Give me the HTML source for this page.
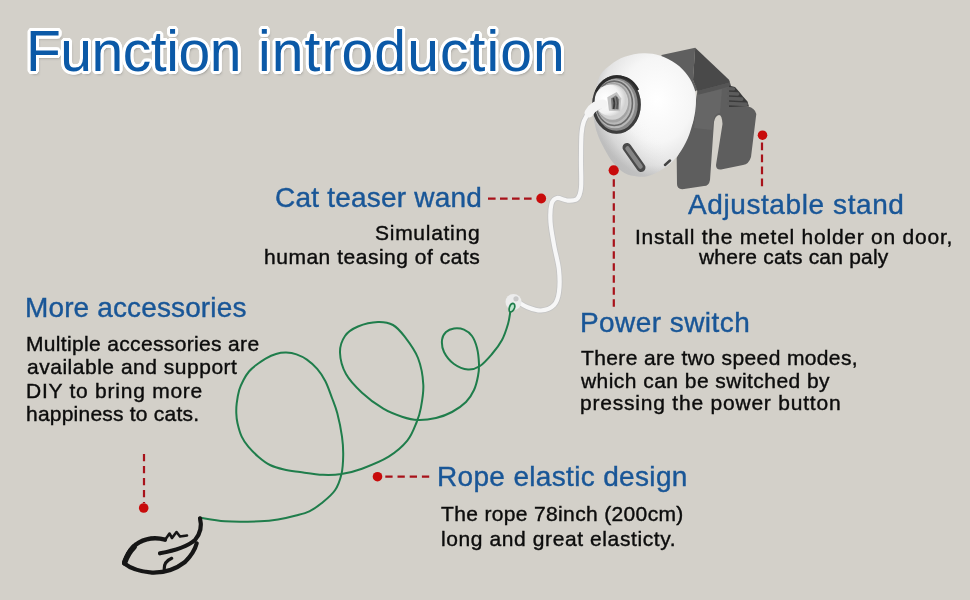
<!DOCTYPE html>
<html><head><meta charset="utf-8">
<style>
html,body{margin:0;padding:0}
body{width:970px;height:600px;background:#d3d0c9;position:relative;overflow:hidden;font-family:"Liberation Sans",sans-serif}
.t{position:absolute;white-space:nowrap;line-height:1;margin:0;will-change:transform}
.b{-webkit-text-stroke:0.4px currentColor}
.title{text-shadow:3.00px 0.00px 0 #fff,2.77px 1.15px 0 #fff,2.12px 2.12px 0 #fff,1.15px 2.77px 0 #fff,0.00px 3.00px 0 #fff,-1.15px 2.77px 0 #fff,-2.12px 2.12px 0 #fff,-2.77px 1.15px 0 #fff,-3.00px 0.00px 0 #fff,-2.77px -1.15px 0 #fff,-2.12px -2.12px 0 #fff,-1.15px -2.77px 0 #fff,-0.00px -3.00px 0 #fff,1.15px -2.77px 0 #fff,2.12px -2.12px 0 #fff,2.77px -1.15px 0 #fff,2.00px 0.00px 0 #fff,1.85px 0.77px 0 #fff,1.41px 1.41px 0 #fff,0.77px 1.85px 0 #fff,0.00px 2.00px 0 #fff,-0.77px 1.85px 0 #fff,-1.41px 1.41px 0 #fff,-1.85px 0.77px 0 #fff,-2.00px 0.00px 0 #fff,-1.85px -0.77px 0 #fff,-1.41px -1.41px 0 #fff,-0.77px -1.85px 0 #fff,-0.00px -2.00px 0 #fff,0.77px -1.85px 0 #fff,1.41px -1.41px 0 #fff,1.85px -0.77px 0 #fff,2px 2.5px 3px rgba(70,70,70,0.55)}
svg{position:absolute;left:0;top:0}
</style></head><body>
<svg width="970" height="600" viewBox="0 0 970 600">
<defs>
 <radialGradient id="bodyG" cx="0.62" cy="0.38" r="0.62">
  <stop offset="0" stop-color="#ffffff"/>
  <stop offset="0.55" stop-color="#f6f6f6"/>
  <stop offset="0.85" stop-color="#e4e4e4"/>
  <stop offset="1" stop-color="#c9c9c9"/>
 </radialGradient>
 <radialGradient id="ringG" cx="0.5" cy="0.5" r="0.5">
  <stop offset="0.6" stop-color="#d0d0d0"/>
  <stop offset="0.8" stop-color="#a8a8a8"/>
  <stop offset="0.95" stop-color="#777"/>
  <stop offset="1" stop-color="#444"/>
 </radialGradient>
 <linearGradient id="topG" x1="0" y1="0" x2="1" y2="0.3">
  <stop offset="0" stop-color="#5e5e5e"/>
  <stop offset="1" stop-color="#474747"/>
 </linearGradient>
 <linearGradient id="bodyShade" x1="0" y1="1" x2="0.7" y2="0.3">
  <stop offset="0" stop-color="#9a9a9a" stop-opacity="0.55"/>
  <stop offset="0.45" stop-color="#b0b0b0" stop-opacity="0.15"/>
  <stop offset="0.7" stop-color="#fff" stop-opacity="0"/>
 </linearGradient>
 <radialGradient id="capG" cx="0.35" cy="0.45" r="0.65">
  <stop offset="0" stop-color="#ffffff"/>
  <stop offset="0.7" stop-color="#f2f2f2"/>
  <stop offset="1" stop-color="#cfcfcf"/>
 </radialGradient>
 <filter id="blurToy" x="-20%" y="-20%" width="140%" height="140%"><feGaussianBlur stdDeviation="0.6"/></filter>
 <filter id="blur1"><feGaussianBlur stdDeviation="0.5"/></filter>
 <filter id="blur06"><feGaussianBlur stdDeviation="0.35"/></filter>
</defs>
<!-- stand -->
<g id="stand">
 <path d="M697.5,89.5 L729,80.5 L730.5,86 L731,106 L748,106.5 Q755,108 756.3,114 L751,157 Q749,164 743,165 L721,169.5 Q716,170 716,165 L722.5,124 Q722,115 719,115 Q715,116 714,122 L710,180 Q709,186 704,186 L684,189 Q677,190 677,184 L676.7,158 L693,122 Z" fill="#5e5e5e"/>
 <path d="M661.5,55 L695.2,47.8 L693,80 L697.5,90 L660,110 Z" fill="#5f5f5f"/>
 <path d="M695.2,47.8 L729,79.7 L730,82.5 L697.5,91 L693,80 Z" fill="#494949"/>
 <path d="M697.5,91 L730,82.5 L731,86 L699,95 Z" fill="#555"/>
 <path d="M697,95 L722,89 L720,113 Q716,113 714,118 L712,130 L694,128 Z" fill="#666"/>
 <path d="M729,85.5 L735,87 L739,91.5 L743,96.5 L747.5,101.5 L749,106.5 L729,107 Z" fill="#3a3a3a"/>
 <g fill="#5c5c5c">
  <rect x="727" y="86.8" width="8.3" height="3.4" rx="1.7" transform="rotate(3 727 86.8)"/>
  <rect x="727" y="91.6" width="12.5" height="3.6" rx="1.8" transform="rotate(3 727 91.6)"/>
  <rect x="727" y="96.6" width="16.6" height="3.6" rx="1.8" transform="rotate(3 727 96.6)"/>
  <rect x="727" y="101.6" width="21" height="3.6" rx="1.8" transform="rotate(3 727 101.6)"/>
 </g>
</g>
<!-- body -->
<path id="body" d="M593.2,105.7 C594.0,98.7 596.1,84.5 599.0,77.7 C601.9,70.9 606.4,68.3 610.7,64.8 C615.0,61.3 619.2,58.6 624.7,56.7 C630.2,54.8 637.6,53.4 643.4,53.2 C649.2,53.0 654.3,53.8 659.7,55.5 C665.1,57.2 671.3,60.4 676.0,63.7 C680.7,67.0 684.6,71.1 687.7,75.4 C690.8,79.7 693.3,84.7 694.7,89.4 C696.1,94.1 696.1,98.4 695.9,103.4 C695.7,108.5 695.0,113.9 693.6,119.7 C692.2,125.5 690.2,132.6 687.7,138.4 C685.2,144.2 681.9,150.0 678.4,154.7 C674.9,159.4 671.4,163.0 666.7,166.4 C662.0,169.8 655.3,173.5 650.4,175.2 C645.5,176.9 641.8,176.9 637.5,176.5 C633.2,176.1 628.6,175.3 624.5,173.0 C620.4,170.7 616.3,166.5 613.0,162.5 C609.7,158.5 607.1,153.8 604.5,149.0 C601.9,144.2 599.2,138.9 597.5,134.0 C595.8,129.1 594.7,124.4 594.0,119.7 C593.3,115.0 592.4,112.7 593.2,105.7 Z" fill="url(#bodyG)"/>
<path d="M593.2,105.7 C594.0,98.7 596.1,84.5 599.0,77.7 C601.9,70.9 606.4,68.3 610.7,64.8 C615.0,61.3 619.2,58.6 624.7,56.7 C630.2,54.8 637.6,53.4 643.4,53.2 C649.2,53.0 654.3,53.8 659.7,55.5 C665.1,57.2 671.3,60.4 676.0,63.7 C680.7,67.0 684.6,71.1 687.7,75.4 C690.8,79.7 693.3,84.7 694.7,89.4 C696.1,94.1 696.1,98.4 695.9,103.4 C695.7,108.5 695.0,113.9 693.6,119.7 C692.2,125.5 690.2,132.6 687.7,138.4 C685.2,144.2 681.9,150.0 678.4,154.7 C674.9,159.4 671.4,163.0 666.7,166.4 C662.0,169.8 655.3,173.5 650.4,175.2 C645.5,176.9 641.8,176.9 637.5,176.5 C633.2,176.1 628.6,175.3 624.5,173.0 C620.4,170.7 616.3,166.5 613.0,162.5 C609.7,158.5 607.1,153.8 604.5,149.0 C601.9,144.2 599.2,138.9 597.5,134.0 C595.8,129.1 594.7,124.4 594.0,119.7 C593.3,115.0 592.4,112.7 593.2,105.7 Z" fill="url(#bodyShade)"/>
<!-- ring -->
<g filter="url(#blur06)">
<ellipse cx="616.5" cy="104.5" rx="24.3" ry="29.3" fill="#8a8a8a"/>
<ellipse cx="616.5" cy="104.5" rx="22.8" ry="27.8" fill="none" stroke="#3c3c3c" stroke-width="3"/>
<ellipse cx="615" cy="103.8" rx="20" ry="24.5" fill="#b9b9b9"/>
<ellipse cx="614.2" cy="103.3" rx="18.2" ry="22.2" fill="none" stroke="#6a6a6a" stroke-width="1.6"/>
<ellipse cx="613.2" cy="102.6" rx="16.6" ry="19.8" fill="#a3a3a3"/>
<ellipse cx="612.4" cy="102" rx="15.8" ry="17.8" fill="#d2d2d2"/>
<path d="M596,92 Q602,78 617,76.5 Q631,76.5 638,90" fill="none" stroke="#2a2a2a" stroke-width="2.6"/>
</g>
<circle cx="610.3" cy="100.3" r="15.6" fill="url(#capG)"/>
<!-- hex nut -->
<g filter="url(#blur06)">
<path d="M607.3,97.3 L616.7,92 L621.3,98.4 L620.2,111.3 L609,110.7 Z" fill="#c2c2c2"/>
<path d="M611,98.5 L616,95.3 L619.2,99.5 L618.7,109.5 L611.8,109.3 Z" fill="#7a7a7a"/>
<path d="M613.3,98 Q615.3,103.5 613.6,109" fill="none" stroke="#3a3a3a" stroke-width="1.6"/>
<path d="M616.6,97 Q618.2,103 616.9,109" fill="none" stroke="#505050" stroke-width="1.3"/>
</g>
<!-- power slot -->
<path d="M627,147.5 L641,167.5" stroke="#4a4a4a" stroke-width="9" stroke-linecap="round"/>
<path d="M627.5,148.5 L640.5,166.5" stroke="#858585" stroke-width="4.5" stroke-linecap="round"/>
<path d="M665,165 L670,160.5" stroke="#444" stroke-width="2.5" stroke-linecap="round"/>
<!-- wire -->
<path d="M600.0,106.0 C598.3,107.0 592.7,109.5 590.0,112.0 C587.3,114.5 585.4,117.3 584.0,121.0 C582.6,124.7 582.0,127.5 581.5,134.0 C581.0,140.5 581.1,151.0 581.0,160.0 C580.9,169.0 581.7,181.5 581.0,188.0 C580.3,194.5 579.3,196.9 577.0,199.0 C574.7,201.1 570.3,200.7 567.0,200.5 C563.7,200.3 559.6,197.4 557.0,198.0 C554.4,198.6 552.6,200.0 551.5,204.0 C550.4,208.0 550.1,215.2 550.5,222.0 C550.9,228.8 552.6,237.0 554.0,245.0 C555.4,253.0 558.2,262.2 559.0,270.0 C559.8,277.8 559.8,286.2 559.0,292.0 C558.2,297.8 557.0,301.9 554.0,305.0 C551.0,308.1 545.5,310.2 541.0,310.5 C536.5,310.8 530.8,308.4 527.0,307.0 C523.2,305.6 519.5,302.8 518.0,302.0" fill="none" stroke="#c4c4c4" stroke-width="5.8" stroke-linecap="round" stroke-linejoin="round"/>
<path d="M600.0,106.0 C598.3,107.0 592.7,109.5 590.0,112.0 C587.3,114.5 585.4,117.3 584.0,121.0 C582.6,124.7 582.0,127.5 581.5,134.0 C581.0,140.5 581.1,151.0 581.0,160.0 C580.9,169.0 581.7,181.5 581.0,188.0 C580.3,194.5 579.3,196.9 577.0,199.0 C574.7,201.1 570.3,200.7 567.0,200.5 C563.7,200.3 559.6,197.4 557.0,198.0 C554.4,198.6 552.6,200.0 551.5,204.0 C550.4,208.0 550.1,215.2 550.5,222.0 C550.9,228.8 552.6,237.0 554.0,245.0 C555.4,253.0 558.2,262.2 559.0,270.0 C559.8,277.8 559.8,286.2 559.0,292.0 C558.2,297.8 557.0,301.9 554.0,305.0 C551.0,308.1 545.5,310.2 541.0,310.5 C536.5,310.8 530.8,308.4 527.0,307.0 C523.2,305.6 519.5,302.8 518.0,302.0" fill="none" stroke="#f7f7f7" stroke-width="4.2" stroke-linecap="round" stroke-linejoin="round"/>
<path d="M603,104 Q594,104 589,113" fill="none" stroke="#f4f4f4" stroke-width="9" stroke-linecap="round"/>
<!-- eyelet at end of wire -->
<circle cx="513.5" cy="302" r="8" fill="#ececec" filter="url(#blur06)"/>
<circle cx="516" cy="298.8" r="2.6" fill="#c9c9c9" filter="url(#blur06)"/>
<!-- green rope -->
<path d="M510.3,312.0 C509.9,314.0 509.4,319.3 508.0,324.0 C506.6,328.7 504.7,335.0 502.0,340.0 C499.3,345.0 495.7,349.7 492.0,354.0 C488.3,358.3 484.0,363.4 480.0,366.0 C476.0,368.6 472.3,369.8 468.0,369.5 C463.7,369.2 458.0,366.9 454.0,364.0 C450.0,361.1 446.0,356.0 444.0,352.0 C442.0,348.0 441.7,343.3 442.0,340.0 C442.3,336.7 444.0,333.9 446.0,332.0 C448.0,330.1 451.0,328.8 454.0,328.4 C457.0,328.0 461.0,328.3 464.0,329.6 C467.0,330.9 469.8,332.9 472.0,336.0 C474.2,339.1 475.8,343.3 477.0,348.0 C478.2,352.7 478.8,359.3 479.0,364.0 C479.2,368.7 478.8,371.7 478.0,376.0 C477.2,380.3 476.0,385.7 474.0,390.0 C472.0,394.3 469.7,398.3 466.0,402.0 C462.3,405.7 457.0,409.3 452.0,412.0 C447.0,414.7 441.7,416.7 436.0,418.0 C430.3,419.3 423.7,420.2 418.0,420.0 C412.3,419.8 407.8,418.6 402.0,416.7 C396.2,414.8 390.0,412.7 383.3,408.7 C376.6,404.7 368.2,398.5 362.0,392.7 C355.8,386.9 349.7,380.7 346.0,374.0 C342.3,367.3 340.2,359.0 340.0,352.7 C339.8,346.4 342.0,340.4 345.0,336.0 C348.0,331.6 352.5,328.8 358.0,326.5 C363.5,324.2 372.2,322.2 378.0,322.0 C383.8,321.8 388.6,322.6 393.0,325.0 C397.4,327.4 400.5,331.2 404.7,336.7 C408.9,342.2 414.9,350.0 418.0,358.0 C421.1,366.0 422.9,376.2 423.3,384.7 C423.8,393.1 421.8,402.5 420.7,408.7 C419.6,414.9 418.9,416.7 416.7,422.0 C414.5,427.3 412.0,434.9 407.3,440.7 C402.6,446.5 396.2,452.0 388.7,456.7 C381.1,461.4 369.9,465.8 362.0,468.7 C354.1,471.6 348.0,473.0 341.5,474.0 C335.0,475.0 329.9,475.1 323.0,474.8 C316.1,474.5 306.5,472.9 300.0,472.0 C293.5,471.1 289.0,470.7 284.0,469.5 C279.0,468.3 274.3,467.1 270.0,465.0 C265.7,462.9 261.9,459.8 258.3,456.7 C254.7,453.6 251.1,450.0 248.3,446.7 C245.5,443.4 243.5,440.6 241.7,436.7 C239.9,432.8 238.4,427.2 237.5,423.3 C236.6,419.4 236.4,416.6 236.3,413.3 C236.2,410.0 236.2,407.2 236.7,403.3 C237.2,399.4 238.1,393.9 239.2,390.0 C240.3,386.1 241.9,383.1 243.5,380.0 C245.1,376.9 247.0,373.9 249.0,371.5 C251.0,369.1 252.7,367.6 255.5,365.5 C258.3,363.4 262.2,360.5 265.6,358.6 C269.0,356.7 272.6,355.0 276.0,354.0 C279.4,353.0 282.8,352.5 286.2,352.6 C289.6,352.7 293.1,353.2 296.5,354.4 C299.9,355.6 303.4,357.2 306.9,359.6 C310.3,362.0 314.1,365.3 317.2,368.9 C320.3,372.5 322.9,376.3 325.4,381.2 C327.9,386.1 330.0,392.6 332.0,398.0 C334.0,403.4 335.6,406.9 337.3,413.3 C339.0,419.8 341.0,429.7 342.0,436.7 C343.0,443.7 343.3,449.1 343.2,455.3 C343.1,461.5 342.9,468.2 341.5,474.0 C340.1,479.8 338.3,485.4 335.0,490.3 C331.7,495.2 325.8,499.8 321.5,503.3 C317.2,506.8 313.6,509.3 309.3,511.3 C305.1,513.3 301.2,514.1 296.0,515.5 C290.8,516.9 284.0,518.5 278.0,519.5 C272.0,520.5 268.8,521.0 260.0,521.3 C251.2,521.6 234.9,521.9 225.0,521.3 C215.1,520.7 204.6,518.4 200.5,517.8" fill="none" stroke="#1f7d4b" stroke-width="2" stroke-linecap="round" stroke-linejoin="round"/>
<path d="M510,312 Q508.5,311 509.5,307 Q511,303 513.5,303.5 Q515.5,304.5 514.5,308 Q513,312 510,312 Z" fill="#bfe6cf" stroke="#1f7d4b" stroke-width="1.7"/>
<!-- cat toy -->
<g fill="none" stroke="#151515" stroke-linecap="round" stroke-linejoin="round" filter="url(#blurToy)">
 <path d="M165,539.7 C152,536 140,540 133,547 C128,552 126,558 124.2,563.3" stroke-width="4.4"/>
 <path d="M124.8,562 C127,556 130,551 134,547" stroke-width="5.5"/>
 <path d="M124.2,563.3 C130,568 140,571.5 152,572.6 C165,573 176,569 185,562 C191,556 195,550 196.7,543.3" stroke-width="4.2"/>
 <path d="M200,518.3 C202,526 201,533 195,540 C188,546 178,550 160,553.3" stroke-width="4.2"/>
 <path d="M164.2,569.2 C164,565 165.5,561 171.7,558.3" stroke-width="3.2"/>
 <path d="M166,538.5 L169.5,533.5 L172,538 L176.5,532 L180,536.5 L187,535.5" stroke-width="2.6"/>
</g>
<!-- red markers -->
<g stroke="#a8121a" stroke-width="2.2" fill="none">
 <path d="M488,198.6 L535,198.6" stroke-dasharray="7.6 4.4"/>
 <path d="M613.8,179.3 L613.8,307" stroke-dasharray="7.4 4.6"/>
 <path d="M762,142.5 L762,187" stroke-dasharray="7.8 4.2"/>
 <path d="M144,454 L144,503" stroke-dasharray="7.3 4.7"/>
 <path d="M385.3,476.7 L430,476.7" stroke-dasharray="7.3 4.9"/>
</g>
<g fill="#c80b0b">
 <circle cx="541.2" cy="198.5" r="4.9"/>
 <circle cx="613.7" cy="170.3" r="5.1"/>
 <circle cx="762.5" cy="135.2" r="4.8"/>
 <circle cx="143.7" cy="508" r="4.8"/>
 <circle cx="377.5" cy="476.7" r="4.8"/>
</g>
</svg>
<div class="t title" style="left:26.43px;top:22.55px;font-size:57px;letter-spacing:-0.465px;color:#0b59a7">Function</div>
<div class="t title" style="left:257.50px;top:22.55px;font-size:57px;letter-spacing:1.091px;color:#0b59a7">introduction</div>
<div class="t b" style="left:275.39px;top:183.90px;font-size:28px;letter-spacing:0.207px;color:#195697">Cat teaser wand</div>
<div class="t b" style="left:375.11px;top:221.82px;font-size:21px;letter-spacing:0.727px;color:#0c0c0c">Simulating</div>
<div class="t b" style="left:263.81px;top:245.72px;font-size:21px;letter-spacing:0.517px;color:#0c0c0c">human teasing of cats</div>
<div class="t b" style="left:687.65px;top:191.10px;font-size:28px;letter-spacing:0.592px;color:#195697">Adjustable stand</div>
<div class="t b" style="left:634.71px;top:225.52px;font-size:21px;letter-spacing:0.760px;color:#0c0c0c">Install the metel holder on door,</div>
<div class="t b" style="left:699.19px;top:245.82px;font-size:21px;letter-spacing:0.205px;color:#0c0c0c">where cats can paly</div>
<div class="t b" style="left:580.04px;top:309.10px;font-size:28px;letter-spacing:0.436px;color:#195697">Power switch</div>
<div class="t b" style="left:580.90px;top:347.22px;font-size:21px;letter-spacing:0.372px;color:#0c0c0c">There are two speed modes,</div>
<div class="t b" style="left:580.79px;top:370.22px;font-size:21px;letter-spacing:0.454px;color:#0c0c0c">which can be switched by</div>
<div class="t b" style="left:580.16px;top:392.22px;font-size:21px;letter-spacing:0.789px;color:#0c0c0c">pressing the power button</div>
<div class="t b" style="left:24.84px;top:293.90px;font-size:28px;letter-spacing:0.132px;color:#195697">More accessories</div>
<div class="t b" style="left:25.98px;top:332.72px;font-size:21px;letter-spacing:0.339px;color:#0c0c0c">Multiple accessories are</div>
<div class="t b" style="left:26.61px;top:356.22px;font-size:21px;letter-spacing:0.515px;color:#0c0c0c">available and support</div>
<div class="t b" style="left:25.98px;top:379.72px;font-size:21px;letter-spacing:0.755px;color:#0c0c0c">DIY to bring more</div>
<div class="t b" style="left:26.20px;top:403.22px;font-size:21px;letter-spacing:0.223px;color:#0c0c0c">happiness to cats.</div>
<div class="t b" style="left:437.14px;top:462.70px;font-size:28px;letter-spacing:0.335px;color:#195697">Rope elastic design</div>
<div class="t b" style="left:441.20px;top:503.12px;font-size:21px;letter-spacing:0.351px;color:#0c0c0c">The rope 78inch (200cm)</div>
<div class="t b" style="left:440.53px;top:527.52px;font-size:21px;letter-spacing:0.598px;color:#0c0c0c">long and great elasticty.</div>
</body></html>
